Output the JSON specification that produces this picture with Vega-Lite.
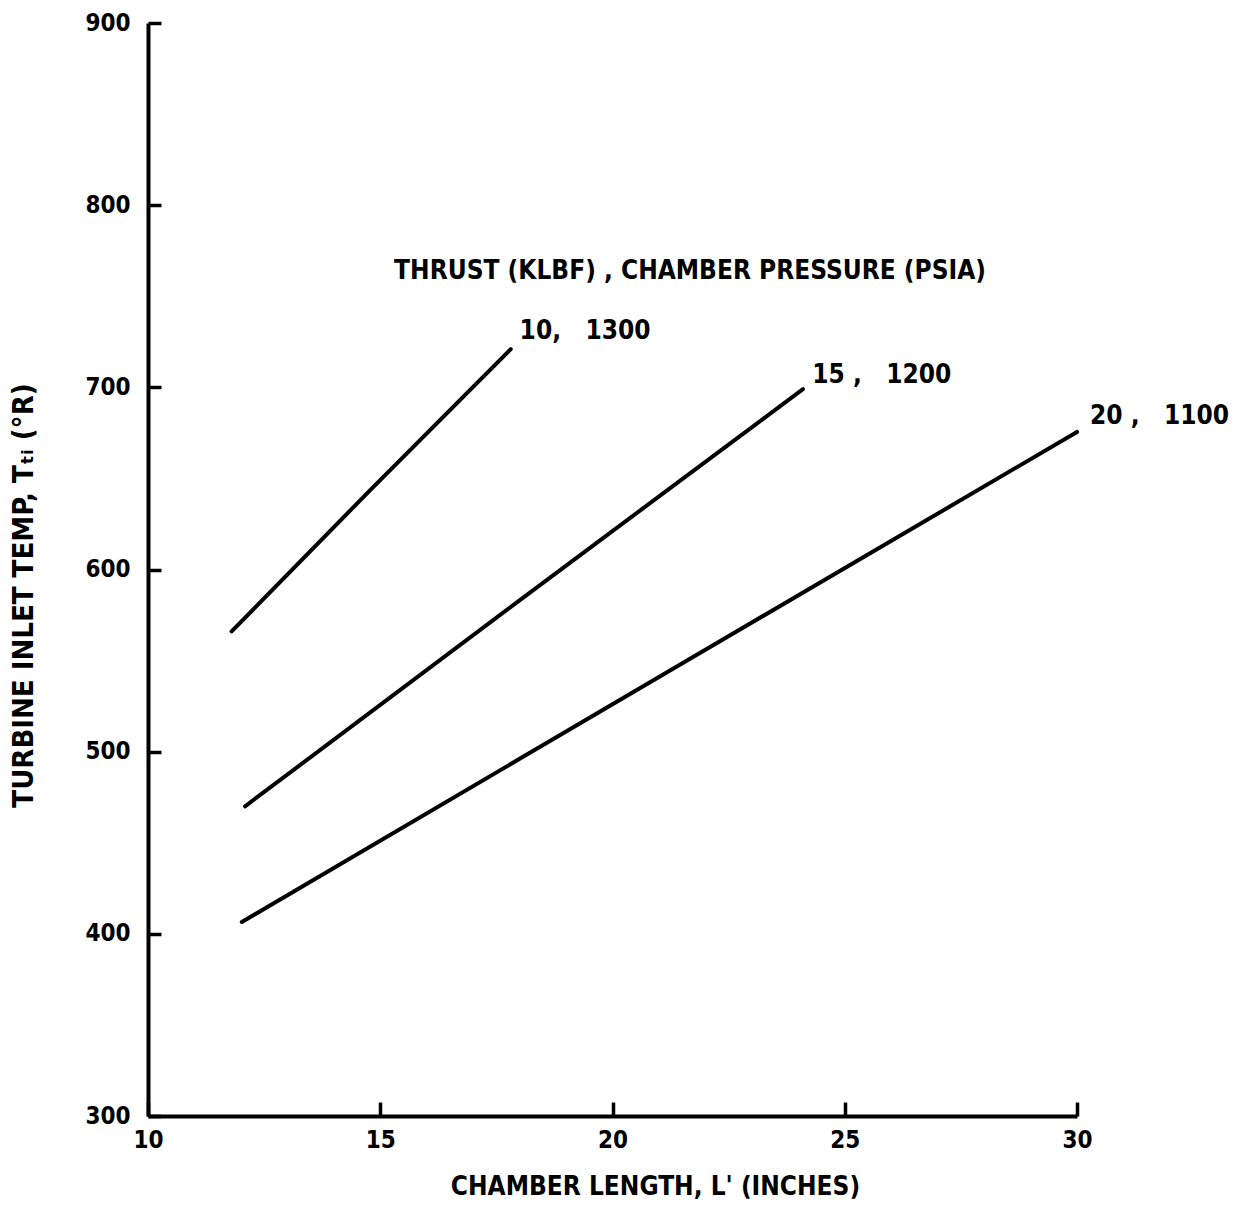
{
  "$schema": "https://vega.github.io/schema/vega-lite/v6.json",
  "width": 929,
  "height": 1093,
  "autosize": {"type": "none"},
  "padding": {"left": 148, "top": 23, "right": 176, "bottom": 91},
  "background": "white",
  "config": {
    "view": {"stroke": null},
    "font": "DejaVu Sans Condensed",
    "axis": {
      "grid": false,
      "domainColor": "black",
      "domainWidth": 4,
      "tickColor": "black",
      "tickWidth": 3.5,
      "labelColor": "black",
      "labelFont": "DejaVu Sans Condensed",
      "labelFontWeight": "bold",
      "labelFontSize": 24,
      "labelFlush": false,
      "titleFont": "DejaVu Sans Condensed",
      "titleFontWeight": "bold",
      "titleFontSize": 26,
      "titleColor": "black"
    }
  },
  "datasets": {
    "curves": [
      {"series": "10, 1300", "length": 11.8, "temp": 566},
      {"series": "10, 1300", "length": 14.8, "temp": 644},
      {"series": "10, 1300", "length": 17.81, "temp": 721},
      {"series": "15, 1200", "length": 12.09, "temp": 470},
      {"series": "15, 1200", "length": 18.1, "temp": 585},
      {"series": "15, 1200", "length": 24.1, "temp": 699},
      {"series": "20, 1100", "length": 12.02, "temp": 406.5},
      {"series": "20, 1100", "length": 21.0, "temp": 541},
      {"series": "20, 1100", "length": 30.0, "temp": 675.5}
    ],
    "labels": [
      {"text": "10,\u00a0\u00a0 1300", "length": 18.0, "temp": 731},
      {"text": "15\u00a0,\u00a0\u00a0 1200", "length": 24.3, "temp": 707},
      {"text": "20\u00a0,\u00a0\u00a0 1100", "length": 30.28, "temp": 684}
    ],
    "header": [
      {"text": "THRUST (KLBF)\u00a0, CHAMBER PRESSURE (PSIA)", "length": 21.67, "temp": 764}
    ]
  },
  "layer": [
    {
      "data": {"name": "curves"},
      "mark": {"type": "line", "color": "black", "strokeWidth": 4, "strokeCap": "round"},
      "encoding": {
        "x": {
          "field": "length",
          "type": "quantitative",
          "scale": {"domain": [10, 30], "nice": false},
          "axis": {
            "values": [10, 15, 20, 25, 30],
            "tickSize": -14,
            "labelPadding": 26,
            "title": "CHAMBER LENGTH, L' (INCHES)",
            "titleX": 507,
            "titleY": 57,
            "titleAnchor": null
          }
        },
        "y": {
          "field": "temp",
          "type": "quantitative",
          "scale": {"domain": [300, 900], "nice": false},
          "axis": {
            "values": [300, 400, 500, 600, 700, 800, 900],
            "tickSize": -13,
            "labelPadding": 31,
            "title": "TURBINE INLET TEMP, Tₜᵢ (°R)",
            "titleFontSize": 29,
            "titleX": -110,
            "titleY": 572
          }
        },
        "detail": {"field": "series"}
      }
    },
    {
      "data": {"name": "labels"},
      "mark": {"type": "text", "align": "left", "baseline": "middle", "font": "DejaVu Sans Condensed", "fontWeight": "bold", "fontSize": 26, "color": "black"},
      "encoding": {
        "x": {"field": "length", "type": "quantitative"},
        "y": {"field": "temp", "type": "quantitative"},
        "text": {"field": "text"}
      }
    },
    {
      "data": {"name": "header"},
      "mark": {"type": "text", "align": "center", "baseline": "middle", "font": "DejaVu Sans Condensed", "fontWeight": "bold", "fontSize": 26, "color": "black"},
      "encoding": {
        "x": {"field": "length", "type": "quantitative"},
        "y": {"field": "temp", "type": "quantitative"},
        "text": {"field": "text"}
      }
    }
  ]
}
